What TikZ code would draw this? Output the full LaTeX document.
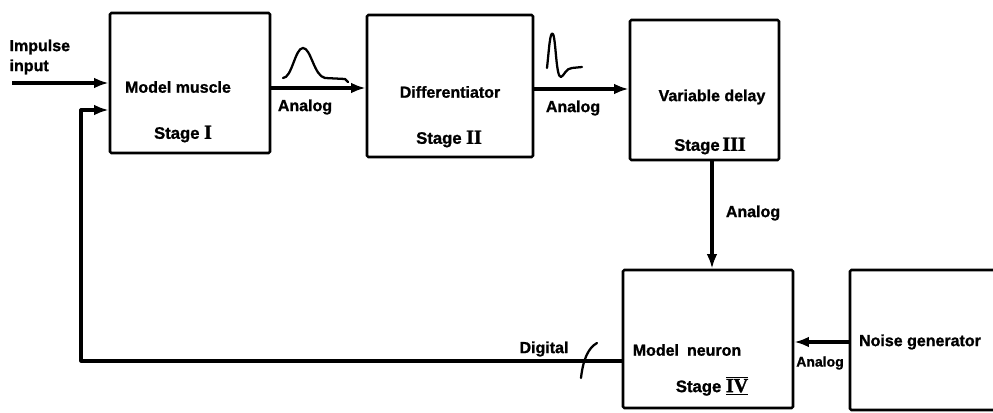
\documentclass[tikz,border=0pt]{standalone}
\usepackage{fontspec}
\setmainfont{Liberation Sans}[BoldFeatures={FakeBold=1.2}]
\newfontfamily\romfont{Liberation Serif}[BoldFeatures={FakeBold=1.5}]
\usetikzlibrary{arrows.meta}
\begin{document}
\begin{tikzpicture}[x=0.75pt,y=-0.75pt,
  box/.style={draw, line width=1.9pt, rounded corners=1pt, inner sep=0pt},
  lbl/.style={font=\bfseries\fontsize{12}{14}\selectfont, inner sep=1pt},
  stg/.style={font=\bfseries\fontsize{12.5}{14}\selectfont, inner sep=1pt},
  rom/.style={},
  conn/.style={line width=2.4pt, -{Latex[length=11pt,width=8pt]}},
  wire/.style={line width=2.4pt},
  wave/.style={line width=1.7pt, line cap=round, line join=round}]
\clip (0,0) rectangle (993,413);
% boxes
\node[box, minimum width=120pt, minimum height=105pt] (m) at (190,83) {};
\node[box, minimum width=124.5pt, minimum height=106.5pt] (d) at (450,86) {};
\node[box, minimum width=111.75pt, minimum height=105pt] (v) at (704.5,90) {};
\node[box, minimum width=127.5pt, minimum height=103.5pt] (n) at (708,339) {};
\node[box, minimum width=120pt, minimum height=105pt] (g) at (930,340) {};
% box texts
\node[lbl] (mt) at (178,87) {Model muscle};
\node[stg] (ms) at (183,134) {Stage {\romfont\bfseries\fontsize{15}{15}\selectfont I}};
\node[lbl] (dt) at (450,92) {Differentiator};
\node[stg] (ds) at (449,139) {Stage {\romfont\bfseries\fontsize{15}{15}\selectfont II}};
\node[lbl] (vt) at (712,97) {Variable delay};
\node[stg] (vs) at (710,146) {Stage\,{\romfont\bfseries\fontsize{15}{15}\selectfont III}};
\node[stg] (ns) at (712,386) {Stage $\overline{\underline{\hbox{\romfont\bfseries\fontsize{15}{15}\selectfont IV}}}$};
\node[lbl] (nt) at (687,350) {Model\enspace neuron};
\node[lbl] (gt) at (920,342) {Noise generator};
% input
\node[lbl, align=left, anchor=west] (imp) at (8,57) {Impulse\\[1pt]input};
\coordinate (in) at (12,83);
\draw[conn] (in) -- (in -| m.west);
% forward path
\draw[conn] (m.east |- 0,88) -- (d.west |- 0,88);
\draw[conn] (d.east |- 0,89) -- (v.west |- 0,89);
\draw[conn] (v.south -| 712,0) -- (n.north -| 712,0);
\draw[conn] (g.west |- 0,342) -- (n.east |- 0,342);
% feedback
\coordinate (fb1) at (81,361);
\coordinate (fb2) at (81,110);
\draw[wire, line join=round, -{Latex[length=11pt,width=8pt]}] (n.west |- 0,361) -- (fb1) -- (fb2) -- (fb2 -| m.west);
% connector labels
\node[lbl] (a1) at (305,107) {Analog};
\node[lbl] (a2) at (573,108) {Analog};
\node[lbl] (a3) at (753,213) {Analog};
\node[lbl, font=\bfseries\fontsize{10.5}{11}\selectfont] (a4) at (820,363) {Analog};
\node[lbl] (dg) at (544,349) {Digital};
% waveforms
\draw[wave] (283,78) .. controls (292,78) and (295,48) .. (303,48) .. controls (311,48) and (314,76) .. (325,78) -- (345,79) -- (348,82);
\draw[wave] (547,68) .. controls (549,50) and (550,30) .. (553,34) .. controls (556,40) and (556,78) .. (561,77) .. controls (564,76) and (566,68) .. (572,68) -- (582,67);
% digital marker
\draw[wave] (581,378) .. controls (583,360) and (588,348) .. (597,343);
\end{tikzpicture}
\end{document}
